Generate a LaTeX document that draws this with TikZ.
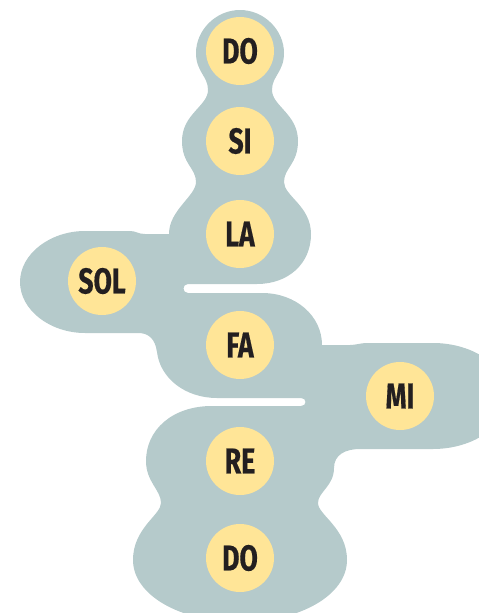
\documentclass[tikz,border=0pt]{standalone}
\usepackage{fontspec}
\newfontfamily\notefont{Fira Sans}[FakeStretch=0.74,FakeBold=0.4]
\definecolor{blobgray}{HTML}{B5CACB}
\definecolor{noteyellow}{HTML}{FFE597}
\definecolor{notetext}{HTML}{231F20}
\begin{document}
\begin{tikzpicture}[x=1pt,y=-1pt,
  note/.style={circle, fill=noteyellow, minimum size=68pt, inner sep=0pt,
    text=notetext, font=\notefont\bfseries\fontsize{36}{36}\selectfont}]
\useasboundingbox (0,0) rectangle (479,613);
\clip (0,0) rectangle (479,613);

% grey outline around the scale
\fill[blobgray]
  (240,10)
  .. controls (264,10) and (284,30) .. (284,53)
  .. controls (284,72) and (272,76) .. (272,90)
  .. controls (272,106) and (298,114) .. (298,141)
  .. controls (298,164) and (284,168) .. (284,182)
  .. controls (284,196) and (311,206) .. (311,234)
  .. controls (311,264) and (288,284) .. (257,284)
  -- (188,284)
  .. controls (182,284) and (182,293) .. (188,293)
  -- (262,293)
  .. controls (296,293) and (322,316) .. (322,345)
  -- (350,345)
  .. controls (356,345) and (360,343) .. (368,343)
  -- (433,343)
  .. controls (474,343) and (508,367) .. (508,396)
  .. controls (508,425) and (474,449) .. (433,449)
  -- (360,449)
  .. controls (345,449) and (334,455) .. (334,468)
  .. controls (334,486) and (318,492) .. (318,503)
  .. controls (318,515) and (347,528) .. (347,560)
  .. controls (347,595) and (300,622) .. (240,622)
  .. controls (180,622) and (133,595) .. (133,560)
  .. controls (133,528) and (161,515) .. (161,503)
  .. controls (161,490) and (146,482) .. (146,461)
  .. controls (146,430) and (172,406) .. (212,406)
  -- (301,406)
  .. controls (307,406) and (307,398) .. (301,398)
  -- (217,398)
  .. controls (185,398) and (160,378) .. (157,352)
  .. controls (155,338) and (148,333) .. (138,333)
  -- (85,333)
  .. controls (50,333) and (20,310) .. (20,282)
  .. controls (20,254) and (50,231) .. (85,231)
  -- (130,231)
  .. controls (136,231) and (138,234) .. (145,234)
  -- (169,234)
  .. controls (169,210) and (196,196) .. (196,182)
  .. controls (196,168) and (182,164) .. (182,141)
  .. controls (182,114) and (208,106) .. (208,90)
  .. controls (208,76) and (196,72) .. (196,53)
  .. controls (196,30) and (216,10) .. (240,10)
  -- cycle;

% the notes
\node[note] (do1) at (240,51)  {DO};
\node[note] (si)  at (240,141) {SI};
\node[note] (la)  at (240,234) {LA};
\node[note] (sol) at (102,281) {SOL};
\node[note] (fa)  at (240,345) {FA};
\node[note] (mi)  at (400,396) {MI};
\node[note] (re)  at (240,461) {RE};
\node[note] (do2) at (240,558) {DO};
\end{tikzpicture}
\end{document}
